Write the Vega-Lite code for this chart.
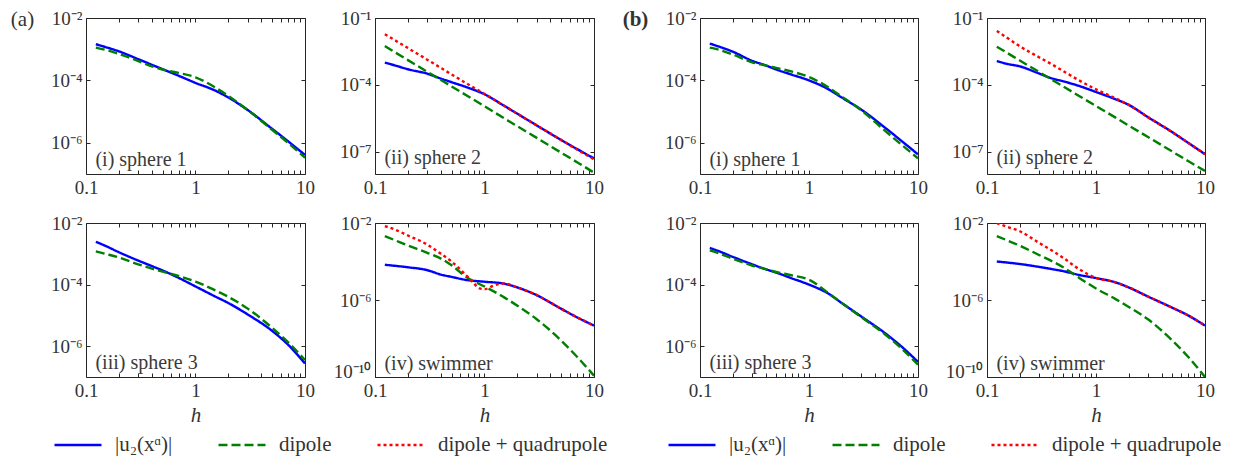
{
"$schema": "https://vega.github.io/schema/vega-lite/v6.json",
"padding": {"left": 9, "top": 7, "right": 5, "bottom": 5},
"background": "white",
"datasets": {
"a1": [
{"series":"|u₂(xᵅ)|","h":0.123,"u":1.445e-3},{"series":"|u₂(xᵅ)|","h":0.15,"u":1.175e-3},{"series":"|u₂(xᵅ)|","h":0.2,"u":8.511e-4},{"series":"|u₂(xᵅ)|","h":0.3,"u":4.786e-4},{"series":"|u₂(xᵅ)|","h":0.4,"u":3.162e-4},{"series":"|u₂(xᵅ)|","h":0.5,"u":2.291e-4},{"series":"|u₂(xᵅ)|","h":0.7,"u":1.413e-4},{"series":"|u₂(xᵅ)|","h":1,"u":8.318e-5},{"series":"|u₂(xᵅ)|","h":1.5,"u":4.786e-5},{"series":"|u₂(xᵅ)|","h":2,"u":2.818e-5},{"series":"|u₂(xᵅ)|","h":3,"u":1.122e-5},{"series":"|u₂(xᵅ)|","h":5,"u":2.818e-6},{"series":"|u₂(xᵅ)|","h":7,"u":1.122e-6},{"series":"|u₂(xᵅ)|","h":10,"u":4.074e-7},
{"series":"dipole","h":0.123,"u":1.122e-3},{"series":"dipole","h":0.15,"u":9.55e-4},{"series":"dipole","h":0.2,"u":7.079e-4},{"series":"dipole","h":0.3,"u":4.169e-4},{"series":"dipole","h":0.4,"u":2.818e-4},{"series":"dipole","h":0.5,"u":2.239e-4},{"series":"dipole","h":0.7,"u":1.738e-4},{"series":"dipole","h":1,"u":1.259e-4},{"series":"dipole","h":1.5,"u":6.026e-5},{"series":"dipole","h":2,"u":3.162e-5},{"series":"dipole","h":3,"u":1.122e-5},{"series":"dipole","h":5,"u":2.63e-6},{"series":"dipole","h":7,"u":1.0e-6},{"series":"dipole","h":10,"u":3.311e-7}
],
"a2": [
{"series":"|u₂(xᵅ)|","h":0.123,"u":1.0e-3},{"series":"|u₂(xᵅ)|","h":0.15,"u":7.586e-4},{"series":"|u₂(xᵅ)|","h":0.2,"u":5.012e-4},{"series":"|u₂(xᵅ)|","h":0.3,"u":3.162e-4},{"series":"|u₂(xᵅ)|","h":0.4,"u":1.905e-4},{"series":"|u₂(xᵅ)|","h":0.5,"u":1.318e-4},{"series":"|u₂(xᵅ)|","h":0.7,"u":7.586e-5},{"series":"|u₂(xᵅ)|","h":1,"u":3.802e-5},{"series":"|u₂(xᵅ)|","h":1.5,"u":1.175e-5},{"series":"|u₂(xᵅ)|","h":2,"u":5.012e-6},{"series":"|u₂(xᵅ)|","h":3,"u":1.514e-6},{"series":"|u₂(xᵅ)|","h":5,"u":3.388e-7},{"series":"|u₂(xᵅ)|","h":7,"u":1.318e-7},{"series":"|u₂(xᵅ)|","h":10,"u":5.012e-8},
{"series":"dipole","h":0.123,"u":5.495e-3},{"series":"dipole","h":0.15,"u":3.02e-3},{"series":"dipole","h":0.2,"u":1.288e-3},{"series":"dipole","h":0.3,"u":3.89e-4},{"series":"dipole","h":0.4,"u":1.66e-4},{"series":"dipole","h":0.5,"u":8.511e-5},{"series":"dipole","h":0.7,"u":3.162e-5},{"series":"dipole","h":1,"u":1.096e-5},{"series":"dipole","h":1.5,"u":3.236e-6},{"series":"dipole","h":2,"u":1.38e-6},{"series":"dipole","h":3,"u":4.169e-7},{"series":"dipole","h":5,"u":9.12e-8},{"series":"dipole","h":7,"u":3.388e-8},{"series":"dipole","h":10,"u":1.148e-8},
{"series":"dipole + quadrupole","h":0.123,"u":1.862e-2},{"series":"dipole + quadrupole","h":0.15,"u":1.047e-2},{"series":"dipole + quadrupole","h":0.2,"u":4.467e-3},{"series":"dipole + quadrupole","h":0.3,"u":1.349e-3},{"series":"dipole + quadrupole","h":0.4,"u":5.754e-4},{"series":"dipole + quadrupole","h":0.5,"u":2.951e-4},{"series":"dipole + quadrupole","h":0.7,"u":1.096e-4},{"series":"dipole + quadrupole","h":1,"u":3.89e-5},{"series":"dipole + quadrupole","h":1.5,"u":1.175e-5},{"series":"dipole + quadrupole","h":2,"u":5.012e-6},{"series":"dipole + quadrupole","h":3,"u":1.514e-6},{"series":"dipole + quadrupole","h":5,"u":3.388e-7},{"series":"dipole + quadrupole","h":7,"u":1.259e-7},{"series":"dipole + quadrupole","h":10,"u":4.571e-8}
],
"a3": [
{"series":"|u₂(xᵅ)|","h":0.123,"u":2.455e-3},{"series":"|u₂(xᵅ)|","h":0.15,"u":1.82e-3},{"series":"|u₂(xᵅ)|","h":0.2,"u":1.122e-3},{"series":"|u₂(xᵅ)|","h":0.3,"u":6.026e-4},{"series":"|u₂(xᵅ)|","h":0.4,"u":3.981e-4},{"series":"|u₂(xᵅ)|","h":0.5,"u":2.884e-4},{"series":"|u₂(xᵅ)|","h":0.7,"u":1.66e-4},{"series":"|u₂(xᵅ)|","h":1,"u":8.71e-5},{"series":"|u₂(xᵅ)|","h":1.5,"u":4.169e-5},{"series":"|u₂(xᵅ)|","h":2,"u":2.512e-5},{"series":"|u₂(xᵅ)|","h":3,"u":1.072e-5},{"series":"|u₂(xᵅ)|","h":5,"u":3.162e-6},{"series":"|u₂(xᵅ)|","h":7,"u":1.122e-6},{"series":"|u₂(xᵅ)|","h":10,"u":2.754e-7},
{"series":"dipole","h":0.123,"u":1.202e-3},{"series":"dipole","h":0.15,"u":1.0e-3},{"series":"dipole","h":0.2,"u":7.586e-4},{"series":"dipole","h":0.3,"u":4.571e-4},{"series":"dipole","h":0.4,"u":3.311e-4},{"series":"dipole","h":0.5,"u":2.63e-4},{"series":"dipole","h":0.7,"u":1.905e-4},{"series":"dipole","h":1,"u":1.259e-4},{"series":"dipole","h":1.5,"u":6.607e-5},{"series":"dipole","h":2,"u":3.981e-5},{"series":"dipole","h":3,"u":1.66e-5},{"series":"dipole","h":5,"u":3.981e-6},{"series":"dipole","h":7,"u":1.349e-6},{"series":"dipole","h":10,"u":3.548e-7}
],
"a4": [
{"series":"|u₂(xᵅ)|","h":0.123,"u":6.761e-5},{"series":"|u₂(xᵅ)|","h":0.15,"u":6.026e-5},{"series":"|u₂(xᵅ)|","h":0.2,"u":5.012e-5},{"series":"|u₂(xᵅ)|","h":0.3,"u":3.548e-5},{"series":"|u₂(xᵅ)|","h":0.4,"u":2.089e-5},{"series":"|u₂(xᵅ)|","h":0.5,"u":1.585e-5},{"series":"|u₂(xᵅ)|","h":0.7,"u":1.072e-5},{"series":"|u₂(xᵅ)|","h":1,"u":8.913e-6},{"series":"|u₂(xᵅ)|","h":1.5,"u":7.079e-6},{"series":"|u₂(xᵅ)|","h":2,"u":4.467e-6},{"series":"|u₂(xᵅ)|","h":3,"u":1.778e-6},{"series":"|u₂(xᵅ)|","h":5,"u":3.548e-7},{"series":"|u₂(xᵅ)|","h":7,"u":1.259e-7},{"series":"|u₂(xᵅ)|","h":10,"u":4.677e-8},
{"series":"dipole","h":0.123,"u":2.089e-3},{"series":"dipole","h":0.15,"u":1.318e-3},{"series":"dipole","h":0.2,"u":6.761e-4},{"series":"dipole","h":0.3,"u":2.818e-4},{"series":"dipole","h":0.4,"u":1.413e-4},{"series":"dipole","h":0.5,"u":6.31e-5},{"series":"dipole","h":0.7,"u":1.413e-5},{"series":"dipole","h":1,"u":5.012e-6},{"series":"dipole","h":1.5,"u":1.413e-6},{"series":"dipole","h":2,"u":5.012e-7},{"series":"dipole","h":3,"u":1.0e-7},{"series":"dipole","h":5,"u":7.943e-9},{"series":"dipole","h":7,"u":1.122e-9},{"series":"dipole","h":10,"u":1.175e-10},
{"series":"dipole + quadrupole","h":0.123,"u":6.918e-3},{"series":"dipole + quadrupole","h":0.15,"u":4.677e-3},{"series":"dipole + quadrupole","h":0.2,"u":2.239e-3},{"series":"dipole + quadrupole","h":0.3,"u":7.586e-4},{"series":"dipole + quadrupole","h":0.4,"u":2.512e-4},{"series":"dipole + quadrupole","h":0.5,"u":1.0e-4},{"series":"dipole + quadrupole","h":0.7,"u":1.622e-5},{"series":"dipole + quadrupole","h":0.8,"u":7.244e-6},{"series":"dipole + quadrupole","h":0.9,"u":3.981e-6},{"series":"dipole + quadrupole","h":1,"u":3.631e-6},{"series":"dipole + quadrupole","h":1.2,"u":5.495e-6},{"series":"dipole + quadrupole","h":1.5,"u":7.244e-6},{"series":"dipole + quadrupole","h":2,"u":4.467e-6},{"series":"dipole + quadrupole","h":3,"u":1.778e-6},{"series":"dipole + quadrupole","h":5,"u":3.548e-7},{"series":"dipole + quadrupole","h":7,"u":1.259e-7},{"series":"dipole + quadrupole","h":10,"u":4.677e-8}
],
"b1": [
{"series":"|u₂(xᵅ)|","h":0.123,"u":1.514e-3},{"series":"|u₂(xᵅ)|","h":0.15,"u":1.202e-3},{"series":"|u₂(xᵅ)|","h":0.2,"u":8.318e-4},{"series":"|u₂(xᵅ)|","h":0.3,"u":4.266e-4},{"series":"|u₂(xᵅ)|","h":0.4,"u":3.02e-4},{"series":"|u₂(xᵅ)|","h":0.5,"u":2.239e-4},{"series":"|u₂(xᵅ)|","h":0.7,"u":1.514e-4},{"series":"|u₂(xᵅ)|","h":1,"u":1.0e-4},{"series":"|u₂(xᵅ)|","h":1.5,"u":5.248e-5},{"series":"|u₂(xᵅ)|","h":2,"u":2.818e-5},{"series":"|u₂(xᵅ)|","h":3,"u":1.175e-5},{"series":"|u₂(xᵅ)|","h":5,"u":3.02e-6},{"series":"|u₂(xᵅ)|","h":7,"u":1.175e-6},{"series":"|u₂(xᵅ)|","h":10,"u":4.266e-7},
{"series":"dipole","h":0.123,"u":1.122e-3},{"series":"dipole","h":0.15,"u":9.55e-4},{"series":"dipole","h":0.2,"u":6.761e-4},{"series":"dipole","h":0.3,"u":3.802e-4},{"series":"dipole","h":0.4,"u":3.02e-4},{"series":"dipole","h":0.5,"u":2.512e-4},{"series":"dipole","h":0.7,"u":1.905e-4},{"series":"dipole","h":1,"u":1.288e-4},{"series":"dipole","h":1.5,"u":6.026e-5},{"series":"dipole","h":2,"u":3.02e-5},{"series":"dipole","h":3,"u":1.122e-5},{"series":"dipole","h":5,"u":2.399e-6},{"series":"dipole","h":7,"u":8.913e-7},{"series":"dipole","h":10,"u":3.162e-7}
],
"b2": [
{"series":"|u₂(xᵅ)|","h":0.123,"u":1.175e-3},{"series":"|u₂(xᵅ)|","h":0.15,"u":8.913e-4},{"series":"|u₂(xᵅ)|","h":0.2,"u":6.761e-4},{"series":"|u₂(xᵅ)|","h":0.3,"u":3.236e-4},{"series":"|u₂(xᵅ)|","h":0.4,"u":1.905e-4},{"series":"|u₂(xᵅ)|","h":0.5,"u":1.445e-4},{"series":"|u₂(xᵅ)|","h":0.7,"u":8.913e-5},{"series":"|u₂(xᵅ)|","h":1,"u":4.786e-5},{"series":"|u₂(xᵅ)|","h":1.5,"u":2.291e-5},{"series":"|u₂(xᵅ)|","h":2,"u":1.259e-5},{"series":"|u₂(xᵅ)|","h":3,"u":3.548e-6},{"series":"|u₂(xᵅ)|","h":5,"u":7.586e-7},{"series":"|u₂(xᵅ)|","h":7,"u":2.512e-7},{"series":"|u₂(xᵅ)|","h":10,"u":7.762e-8},
{"series":"dipole","h":0.123,"u":5.129e-3},{"series":"dipole","h":0.15,"u":2.884e-3},{"series":"dipole","h":0.2,"u":1.23e-3},{"series":"dipole","h":0.3,"u":3.802e-4},{"series":"dipole","h":0.4,"u":1.622e-4},{"series":"dipole","h":0.5,"u":8.511e-5},{"series":"dipole","h":0.7,"u":3.162e-5},{"series":"dipole","h":1,"u":1.122e-5},{"series":"dipole","h":1.5,"u":3.467e-6},{"series":"dipole","h":2,"u":1.479e-6},{"series":"dipole","h":3,"u":4.571e-7},{"series":"dipole","h":5,"u":1.023e-7},{"series":"dipole","h":7,"u":3.802e-8},{"series":"dipole","h":10,"u":1.38e-8},
{"series":"dipole + quadrupole","h":0.123,"u":2.63e-2},{"series":"dipole + quadrupole","h":0.15,"u":1.38e-2},{"series":"dipole + quadrupole","h":0.2,"u":5.37e-3},{"series":"dipole + quadrupole","h":0.3,"u":1.738e-3},{"series":"dipole + quadrupole","h":0.4,"u":7.943e-4},{"series":"dipole + quadrupole","h":0.5,"u":4.169e-4},{"series":"dipole + quadrupole","h":0.7,"u":1.585e-4},{"series":"dipole + quadrupole","h":1,"u":6.31e-5},{"series":"dipole + quadrupole","h":1.5,"u":2.512e-5},{"series":"dipole + quadrupole","h":2,"u":1.259e-5},{"series":"dipole + quadrupole","h":3,"u":3.548e-6},{"series":"dipole + quadrupole","h":5,"u":7.586e-7},{"series":"dipole + quadrupole","h":7,"u":2.512e-7},{"series":"dipole + quadrupole","h":10,"u":7.762e-8}
],
"b3": [
{"series":"|u₂(xᵅ)|","h":0.123,"u":1.549e-3},{"series":"|u₂(xᵅ)|","h":0.15,"u":1.202e-3},{"series":"|u₂(xᵅ)|","h":0.2,"u":7.943e-4},{"series":"|u₂(xᵅ)|","h":0.3,"u":4.571e-4},{"series":"|u₂(xᵅ)|","h":0.4,"u":3.162e-4},{"series":"|u₂(xᵅ)|","h":0.5,"u":2.455e-4},{"series":"|u₂(xᵅ)|","h":0.7,"u":1.585e-4},{"series":"|u₂(xᵅ)|","h":1,"u":1.0e-4},{"series":"|u₂(xᵅ)|","h":1.5,"u":5.129e-5},{"series":"|u₂(xᵅ)|","h":2,"u":2.512e-5},{"series":"|u₂(xᵅ)|","h":3,"u":9.333e-6},{"series":"|u₂(xᵅ)|","h":5,"u":2.63e-6},{"series":"|u₂(xᵅ)|","h":7,"u":1.0e-6},{"series":"|u₂(xᵅ)|","h":10,"u":3.09e-7},
{"series":"dipole","h":0.123,"u":1.288e-3},{"series":"dipole","h":0.15,"u":1.023e-3},{"series":"dipole","h":0.2,"u":6.918e-4},{"series":"dipole","h":0.3,"u":4.169e-4},{"series":"dipole","h":0.4,"u":3.162e-4},{"series":"dipole","h":0.5,"u":2.57e-4},{"series":"dipole","h":0.7,"u":1.995e-4},{"series":"dipole","h":1,"u":1.445e-4},{"series":"dipole","h":1.5,"u":5.37e-5},{"series":"dipole","h":2,"u":2.512e-5},{"series":"dipole","h":3,"u":8.913e-6},{"series":"dipole","h":5,"u":2.399e-6},{"series":"dipole","h":7,"u":8.71e-7},{"series":"dipole","h":10,"u":2.512e-7}
],
"b4": [
{"series":"|u₂(xᵅ)|","h":0.123,"u":1.0e-4},{"series":"|u₂(xᵅ)|","h":0.15,"u":8.913e-5},{"series":"|u₂(xᵅ)|","h":0.2,"u":7.413e-5},{"series":"|u₂(xᵅ)|","h":0.3,"u":5.248e-5},{"series":"|u₂(xᵅ)|","h":0.4,"u":3.981e-5},{"series":"|u₂(xᵅ)|","h":0.5,"u":3.162e-5},{"series":"|u₂(xᵅ)|","h":0.7,"u":1.995e-5},{"series":"|u₂(xᵅ)|","h":1,"u":1.38e-5},{"series":"|u₂(xᵅ)|","h":1.5,"u":8.318e-6},{"series":"|u₂(xᵅ)|","h":2,"u":4.467e-6},{"series":"|u₂(xᵅ)|","h":3,"u":1.514e-6},{"series":"|u₂(xᵅ)|","h":5,"u":3.981e-7},{"series":"|u₂(xᵅ)|","h":7,"u":1.585e-7},{"series":"|u₂(xᵅ)|","h":10,"u":4.677e-8},
{"series":"dipole","h":0.123,"u":2.089e-3},{"series":"dipole","h":0.15,"u":1.318e-3},{"series":"dipole","h":0.2,"u":6.607e-4},{"series":"dipole","h":0.3,"u":2.188e-4},{"series":"dipole","h":0.4,"u":1.0e-4},{"series":"dipole","h":0.5,"u":5.012e-5},{"series":"dipole","h":0.7,"u":1.413e-5},{"series":"dipole","h":1,"u":3.981e-6},{"series":"dipole","h":1.5,"u":1.148e-6},{"series":"dipole","h":2,"u":4.365e-7},{"series":"dipole","h":3,"u":1.0e-7},{"series":"dipole","h":5,"u":7.943e-9},{"series":"dipole","h":7,"u":1.122e-9},{"series":"dipole","h":10,"u":1.0e-10},
{"series":"dipole + quadrupole","h":0.123,"u":1.0e-2},{"series":"dipole + quadrupole","h":0.15,"u":6.607e-3},{"series":"dipole + quadrupole","h":0.2,"u":3.715e-3},{"series":"dipole + quadrupole","h":0.3,"u":9.333e-4},{"series":"dipole + quadrupole","h":0.4,"u":3.548e-4},{"series":"dipole + quadrupole","h":0.5,"u":1.549e-4},{"series":"dipole + quadrupole","h":0.7,"u":3.981e-5},{"series":"dipole + quadrupole","h":1,"u":1.413e-5},{"series":"dipole + quadrupole","h":1.5,"u":8.318e-6},{"series":"dipole + quadrupole","h":2,"u":4.467e-6},{"series":"dipole + quadrupole","h":3,"u":1.514e-6},{"series":"dipole + quadrupole","h":5,"u":3.981e-7},{"series":"dipole + quadrupole","h":7,"u":1.585e-7},{"series":"dipole + quadrupole","h":10,"u":4.677e-8}
]
},
"hconcat": [
{
"columns": 2, "spacing": {"row": 49, "column": 70}, "bounds": "flush",
"concat": [
{"width": 219, "height": 156, "resolve": {"axis": {"x": "independent", "y": "independent"}}, "layer": [
{"data": {"name": "a1"}, "mark": {"type": "line", "clip": true, "interpolate": "monotone"},
"encoding": {
"x": {"field": "h", "type": "quantitative", "scale": {"type": "log", "domain": [0.1, 10], "nice": false}, "axis": {"orient": "bottom", "values": [0.1,0.2,0.3,0.4,0.5,0.6,0.7,0.8,0.9,1,2,3,4,5,6,7,8,9,10], "labelExpr": "datum.value == 0.1 ? '0.1' : datum.value == 1 ? '1' : datum.value == 10 ? '10' : ''", "title": null}},
"y": {"field": "u", "type": "quantitative", "scale": {"type": "log", "domain": [1e-7, 1e-2], "nice": false}, "axis": {"orient": "left", "values": [1e-2, 1e-4, 1e-6], "labelExpr": "'10' + (datum.value > 0.05 ? '⁻¹' : datum.value > 0.005 ? '⁻²' : datum.value > 0.00005 ? '⁻⁴' : datum.value > 0.0000005 ? '⁻⁶' : datum.value > 0.00000005 ? '⁻⁷' : '⁻¹⁰')", "title": "(a)", "titleAngle": 0, "titleX": -64, "titleY": 1, "titleAlign": "center", "titleBaseline": "middle"}},
"color": {"field": "series", "type": "nominal", "scale": {"domain": ["|u₂(xᵅ)|", "dipole", "dipole + quadrupole"], "range": ["#0000ff", "#008000", "#ff0000"]}, "legend": {"title": null, "orient": "none", "legendX": -33, "legendY": 402}},
"strokeDash": {"field": "series", "type": "nominal", "scale": {"domain": ["|u₂(xᵅ)|", "dipole", "dipole + quadrupole"], "range": [[1,0],[9,4],[3,3]]}, "legend": {"title": null, "orient": "none", "legendX": -33, "legendY": 402}}
}},
{"data": {"values": [{"label": "(i) sphere 1"}]}, "mark": {"type": "text", "align": "left", "baseline": "alphabetic"},
"encoding": {
"x": {"datum": 0.122, "type": "quantitative", "axis": {"orient": "top", "values": [0.1,0.2,0.3,0.4,0.5,0.6,0.7,0.8,0.9,1,2,3,4,5,6,7,8,9,10], "labels": false, "title": null}},
"y": {"datum": 1.82e-7, "type": "quantitative", "axis": {"orient": "right", "values": [1e-2, 1e-4, 1e-6], "labels": false, "title": null}},
"text": {"field": "label"}
}}
]},
{"width": 219, "height": 156, "resolve": {"axis": {"x": "independent", "y": "independent"}}, "layer": [
{"data": {"name": "a2"}, "mark": {"type": "line", "clip": true, "interpolate": "monotone"},
"encoding": {
"x": {"field": "h", "type": "quantitative", "scale": {"type": "log", "domain": [0.1, 10], "nice": false}, "axis": {"orient": "bottom", "values": [0.1,0.2,0.3,0.4,0.5,0.6,0.7,0.8,0.9,1,2,3,4,5,6,7,8,9,10], "labelExpr": "datum.value == 0.1 ? '0.1' : datum.value == 1 ? '1' : datum.value == 10 ? '10' : ''", "title": null}},
"y": {"field": "u", "type": "quantitative", "scale": {"type": "log", "domain": [1e-8, 1e-1], "nice": false}, "axis": {"orient": "left", "values": [1e-1, 1e-4, 1e-7], "labelExpr": "'10' + (datum.value > 0.05 ? '⁻¹' : datum.value > 0.005 ? '⁻²' : datum.value > 0.00005 ? '⁻⁴' : datum.value > 0.0000005 ? '⁻⁶' : datum.value > 0.00000005 ? '⁻⁷' : '⁻¹⁰')", "title": null}},
"color": {"field": "series", "type": "nominal", "legend": {"title": null}},
"strokeDash": {"field": "series", "type": "nominal", "legend": {"title": null}}
}},
{"data": {"values": [{"label": "(ii) sphere 2"}]}, "mark": {"type": "text", "align": "left", "baseline": "alphabetic"},
"encoding": {
"x": {"datum": 0.122, "type": "quantitative", "axis": {"orient": "top", "values": [0.1,0.2,0.3,0.4,0.5,0.6,0.7,0.8,0.9,1,2,3,4,5,6,7,8,9,10], "labels": false, "title": null}},
"y": {"datum": 2.95e-8, "type": "quantitative", "axis": {"orient": "right", "values": [1e-1, 1e-4, 1e-7], "labels": false, "title": null}},
"text": {"field": "label"}
}}
]},
{"width": 219, "height": 154, "resolve": {"axis": {"x": "independent", "y": "independent"}}, "layer": [
{"data": {"name": "a3"}, "mark": {"type": "line", "clip": true, "interpolate": "monotone"},
"encoding": {
"x": {"field": "h", "type": "quantitative", "scale": {"type": "log", "domain": [0.1, 10], "nice": false}, "axis": {"orient": "bottom", "values": [0.1,0.2,0.3,0.4,0.5,0.6,0.7,0.8,0.9,1,2,3,4,5,6,7,8,9,10], "labelExpr": "datum.value == 0.1 ? '0.1' : datum.value == 1 ? '1' : datum.value == 10 ? '10' : ''", "title": "h", "titleFontStyle": "italic"}},
"y": {"field": "u", "type": "quantitative", "scale": {"type": "log", "domain": [1e-7, 1e-2], "nice": false}, "axis": {"orient": "left", "values": [1e-2, 1e-4, 1e-6], "labelExpr": "'10' + (datum.value > 0.05 ? '⁻¹' : datum.value > 0.005 ? '⁻²' : datum.value > 0.00005 ? '⁻⁴' : datum.value > 0.0000005 ? '⁻⁶' : datum.value > 0.00000005 ? '⁻⁷' : '⁻¹⁰')", "title": null}},
"color": {"field": "series", "type": "nominal", "legend": {"title": null}},
"strokeDash": {"field": "series", "type": "nominal", "legend": {"title": null}}
}},
{"data": {"values": [{"label": "(iii) sphere 3"}]}, "mark": {"type": "text", "align": "left", "baseline": "alphabetic"},
"encoding": {
"x": {"datum": 0.122, "type": "quantitative", "axis": {"orient": "top", "values": [0.1,0.2,0.3,0.4,0.5,0.6,0.7,0.8,0.9,1,2,3,4,5,6,7,8,9,10], "labels": false, "title": null}},
"y": {"datum": 1.86e-7, "type": "quantitative", "axis": {"orient": "right", "values": [1e-2, 1e-4, 1e-6], "labels": false, "title": null}},
"text": {"field": "label"}
}}
]},
{"width": 219, "height": 154, "resolve": {"axis": {"x": "independent", "y": "independent"}}, "layer": [
{"data": {"name": "a4"}, "mark": {"type": "line", "clip": true, "interpolate": "monotone"},
"encoding": {
"x": {"field": "h", "type": "quantitative", "scale": {"type": "log", "domain": [0.1, 10], "nice": false}, "axis": {"orient": "bottom", "values": [0.1,0.2,0.3,0.4,0.5,0.6,0.7,0.8,0.9,1,2,3,4,5,6,7,8,9,10], "labelExpr": "datum.value == 0.1 ? '0.1' : datum.value == 1 ? '1' : datum.value == 10 ? '10' : ''", "title": "h", "titleFontStyle": "italic"}},
"y": {"field": "u", "type": "quantitative", "scale": {"type": "log", "domain": [1e-10, 1e-2], "nice": false}, "axis": {"orient": "left", "values": [1e-2, 1e-6, 1e-10], "labelExpr": "'10' + (datum.value > 0.05 ? '⁻¹' : datum.value > 0.005 ? '⁻²' : datum.value > 0.00005 ? '⁻⁴' : datum.value > 0.0000005 ? '⁻⁶' : datum.value > 0.00000005 ? '⁻⁷' : '⁻¹⁰')", "labelOffset": {"condition": {"test": "datum.value < 1e-9", "value": -6}, "value": 0}, "title": null}},
"color": {"field": "series", "type": "nominal", "legend": {"title": null}},
"strokeDash": {"field": "series", "type": "nominal", "legend": {"title": null}}
}},
{"data": {"values": [{"label": "(iv) swimmer"}]}, "mark": {"type": "text", "align": "left", "baseline": "alphabetic"},
"encoding": {
"x": {"datum": 0.122, "type": "quantitative", "axis": {"orient": "top", "values": [0.1,0.2,0.3,0.4,0.5,0.6,0.7,0.8,0.9,1,2,3,4,5,6,7,8,9,10], "labels": false, "title": null}},
"y": {"datum": 2.4e-10, "type": "quantitative", "axis": {"orient": "right", "values": [1e-2, 1e-6, 1e-10], "labels": false, "title": null}},
"text": {"field": "label"}
}}
]}
]
},
{
"columns": 2, "spacing": {"row": 49, "column": 69}, "bounds": "flush",
"concat": [
{"width": 218, "height": 156, "resolve": {"axis": {"x": "independent", "y": "independent"}}, "layer": [
{"data": {"name": "b1"}, "mark": {"type": "line", "clip": true, "interpolate": "monotone"},
"encoding": {
"x": {"field": "h", "type": "quantitative", "scale": {"type": "log", "domain": [0.1, 10], "nice": false}, "axis": {"orient": "bottom", "values": [0.1,0.2,0.3,0.4,0.5,0.6,0.7,0.8,0.9,1,2,3,4,5,6,7,8,9,10], "labelExpr": "datum.value == 0.1 ? '0.1' : datum.value == 1 ? '1' : datum.value == 10 ? '10' : ''", "title": null}},
"y": {"field": "u", "type": "quantitative", "scale": {"type": "log", "domain": [1e-7, 1e-2], "nice": false}, "axis": {"orient": "left", "values": [1e-2, 1e-4, 1e-6], "labelExpr": "'10' + (datum.value > 0.05 ? '⁻¹' : datum.value > 0.005 ? '⁻²' : datum.value > 0.00005 ? '⁻⁴' : datum.value > 0.0000005 ? '⁻⁶' : datum.value > 0.00000005 ? '⁻⁷' : '⁻¹⁰')", "title": "(b)", "titleFontWeight": "bold", "titleAngle": 0, "titleX": -65, "titleY": 1, "titleAlign": "center", "titleBaseline": "middle"}},
"color": {"field": "series", "type": "nominal", "scale": {"domain": ["|u₂(xᵅ)|", "dipole", "dipole + quadrupole"], "range": ["#0000ff", "#008000", "#ff0000"]}, "legend": {"title": null, "orient": "none", "legendX": -33, "legendY": 402}},
"strokeDash": {"field": "series", "type": "nominal", "scale": {"domain": ["|u₂(xᵅ)|", "dipole", "dipole + quadrupole"], "range": [[1,0],[9,4],[3,3]]}, "legend": {"title": null, "orient": "none", "legendX": -33, "legendY": 402}}
}},
{"data": {"values": [{"label": "(i) sphere 1"}]}, "mark": {"type": "text", "align": "left", "baseline": "alphabetic"},
"encoding": {
"x": {"datum": 0.122, "type": "quantitative", "axis": {"orient": "top", "values": [0.1,0.2,0.3,0.4,0.5,0.6,0.7,0.8,0.9,1,2,3,4,5,6,7,8,9,10], "labels": false, "title": null}},
"y": {"datum": 1.82e-7, "type": "quantitative", "axis": {"orient": "right", "values": [1e-2, 1e-4, 1e-6], "labels": false, "title": null}},
"text": {"field": "label"}
}}
]},
{"width": 218, "height": 156, "resolve": {"axis": {"x": "independent", "y": "independent"}}, "layer": [
{"data": {"name": "b2"}, "mark": {"type": "line", "clip": true, "interpolate": "monotone"},
"encoding": {
"x": {"field": "h", "type": "quantitative", "scale": {"type": "log", "domain": [0.1, 10], "nice": false}, "axis": {"orient": "bottom", "values": [0.1,0.2,0.3,0.4,0.5,0.6,0.7,0.8,0.9,1,2,3,4,5,6,7,8,9,10], "labelExpr": "datum.value == 0.1 ? '0.1' : datum.value == 1 ? '1' : datum.value == 10 ? '10' : ''", "title": null}},
"y": {"field": "u", "type": "quantitative", "scale": {"type": "log", "domain": [1e-8, 1e-1], "nice": false}, "axis": {"orient": "left", "values": [1e-1, 1e-4, 1e-7], "labelExpr": "'10' + (datum.value > 0.05 ? '⁻¹' : datum.value > 0.005 ? '⁻²' : datum.value > 0.00005 ? '⁻⁴' : datum.value > 0.0000005 ? '⁻⁶' : datum.value > 0.00000005 ? '⁻⁷' : '⁻¹⁰')", "title": null}},
"color": {"field": "series", "type": "nominal", "legend": {"title": null}},
"strokeDash": {"field": "series", "type": "nominal", "legend": {"title": null}}
}},
{"data": {"values": [{"label": "(ii) sphere 2"}]}, "mark": {"type": "text", "align": "left", "baseline": "alphabetic"},
"encoding": {
"x": {"datum": 0.122, "type": "quantitative", "axis": {"orient": "top", "values": [0.1,0.2,0.3,0.4,0.5,0.6,0.7,0.8,0.9,1,2,3,4,5,6,7,8,9,10], "labels": false, "title": null}},
"y": {"datum": 2.95e-8, "type": "quantitative", "axis": {"orient": "right", "values": [1e-1, 1e-4, 1e-7], "labels": false, "title": null}},
"text": {"field": "label"}
}}
]},
{"width": 218, "height": 154, "resolve": {"axis": {"x": "independent", "y": "independent"}}, "layer": [
{"data": {"name": "b3"}, "mark": {"type": "line", "clip": true, "interpolate": "monotone"},
"encoding": {
"x": {"field": "h", "type": "quantitative", "scale": {"type": "log", "domain": [0.1, 10], "nice": false}, "axis": {"orient": "bottom", "values": [0.1,0.2,0.3,0.4,0.5,0.6,0.7,0.8,0.9,1,2,3,4,5,6,7,8,9,10], "labelExpr": "datum.value == 0.1 ? '0.1' : datum.value == 1 ? '1' : datum.value == 10 ? '10' : ''", "title": "h", "titleFontStyle": "italic"}},
"y": {"field": "u", "type": "quantitative", "scale": {"type": "log", "domain": [1e-7, 1e-2], "nice": false}, "axis": {"orient": "left", "values": [1e-2, 1e-4, 1e-6], "labelExpr": "'10' + (datum.value > 0.05 ? '⁻¹' : datum.value > 0.005 ? '⁻²' : datum.value > 0.00005 ? '⁻⁴' : datum.value > 0.0000005 ? '⁻⁶' : datum.value > 0.00000005 ? '⁻⁷' : '⁻¹⁰')", "title": null}},
"color": {"field": "series", "type": "nominal", "legend": {"title": null}},
"strokeDash": {"field": "series", "type": "nominal", "legend": {"title": null}}
}},
{"data": {"values": [{"label": "(iii) sphere 3"}]}, "mark": {"type": "text", "align": "left", "baseline": "alphabetic"},
"encoding": {
"x": {"datum": 0.122, "type": "quantitative", "axis": {"orient": "top", "values": [0.1,0.2,0.3,0.4,0.5,0.6,0.7,0.8,0.9,1,2,3,4,5,6,7,8,9,10], "labels": false, "title": null}},
"y": {"datum": 1.86e-7, "type": "quantitative", "axis": {"orient": "right", "values": [1e-2, 1e-4, 1e-6], "labels": false, "title": null}},
"text": {"field": "label"}
}}
]},
{"width": 218, "height": 154, "resolve": {"axis": {"x": "independent", "y": "independent"}}, "layer": [
{"data": {"name": "b4"}, "mark": {"type": "line", "clip": true, "interpolate": "monotone"},
"encoding": {
"x": {"field": "h", "type": "quantitative", "scale": {"type": "log", "domain": [0.1, 10], "nice": false}, "axis": {"orient": "bottom", "values": [0.1,0.2,0.3,0.4,0.5,0.6,0.7,0.8,0.9,1,2,3,4,5,6,7,8,9,10], "labelExpr": "datum.value == 0.1 ? '0.1' : datum.value == 1 ? '1' : datum.value == 10 ? '10' : ''", "title": "h", "titleFontStyle": "italic"}},
"y": {"field": "u", "type": "quantitative", "scale": {"type": "log", "domain": [1e-10, 1e-2], "nice": false}, "axis": {"orient": "left", "values": [1e-2, 1e-6, 1e-10], "labelExpr": "'10' + (datum.value > 0.05 ? '⁻¹' : datum.value > 0.005 ? '⁻²' : datum.value > 0.00005 ? '⁻⁴' : datum.value > 0.0000005 ? '⁻⁶' : datum.value > 0.00000005 ? '⁻⁷' : '⁻¹⁰')", "labelOffset": {"condition": {"test": "datum.value < 1e-9", "value": -6}, "value": 0}, "title": null}},
"color": {"field": "series", "type": "nominal", "legend": {"title": null}},
"strokeDash": {"field": "series", "type": "nominal", "legend": {"title": null}}
}},
{"data": {"values": [{"label": "(iv) swimmer"}]}, "mark": {"type": "text", "align": "left", "baseline": "alphabetic"},
"encoding": {
"x": {"datum": 0.122, "type": "quantitative", "axis": {"orient": "top", "values": [0.1,0.2,0.3,0.4,0.5,0.6,0.7,0.8,0.9,1,2,3,4,5,6,7,8,9,10], "labels": false, "title": null}},
"y": {"datum": 2.4e-10, "type": "quantitative", "axis": {"orient": "right", "values": [1e-2, 1e-6, 1e-10], "labels": false, "title": null}},
"text": {"field": "label"}
}}
]}
]
}
],
"spacing": 13,
"resolve": {"scale": {"color": "independent", "strokeDash": "independent"}},
"config": {
"font": "Liberation Serif",
"view": {"stroke": "#262626", "strokeWidth": 1},
"line": {"strokeWidth": 2.4},
"text": {"font": "Liberation Serif", "fontSize": 20, "color": "#3a3a3a"},
"axis": {"domain": false, "grid": false, "labelFont": "Liberation Serif", "labelFontSize": 19, "labelColor": "#333333", "tickColor": "#262626", "tickSize": -4, "labelPadding": 8, "labelOverlap": false, "labelFlush": false, "titleFont": "Liberation Serif", "titleFontSize": 21, "titleFontWeight": "normal", "titleColor": "#333333", "titlePadding": 4},
"legend": {"orient": "none", "direction": "horizontal", "symbolType": "stroke", "symbolSize": 2209, "symbolStrokeWidth": 2.5, "labelFont": "Liberation Serif", "labelFontSize": 21, "labelColor": "#333333", "labelOffset": 12, "columnPadding": 40, "labelLimit": 400}
}
}
